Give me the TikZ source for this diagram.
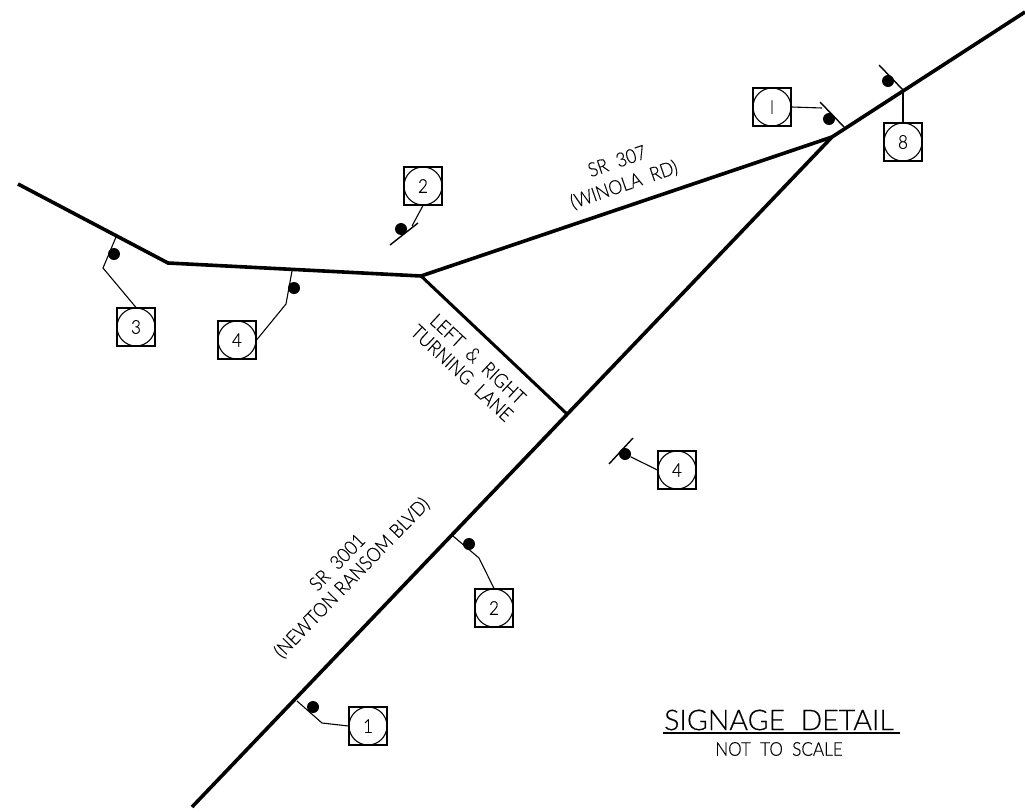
\documentclass[tikz,border=0pt]{standalone}
\usepackage{fontspec}
\setmainfont{Lato}[UprightFont=* Light,FakeStretch=0.9,FakeBold=0.35]
\newfontfamily\titlefont{Lato}[UprightFont=* Light,FakeStretch=1.0,FakeBold=0.4]
\tikzset{
  x=1pt,y=-1pt,
  road/.style={line width=3.6pt,line join=miter,line cap=butt},
  leader/.style={line width=1.1pt,line join=miter},
  signbar/.style={line width=1.4pt},
  signbox/.style={draw,line width=1.1pt,rectangle,minimum size=38pt,inner sep=0pt},
  signcirc/.style={draw,line width=1.1pt,circle,minimum size=38pt,inner sep=0pt,font=\fontsize{19}{19}\selectfont},
  signdot/.style={fill,circle,minimum size=12pt,inner sep=0pt},
  lbl/.style={inner sep=0pt,font=\fontsize{19.5}{19.5}\selectfont,align=center},
}
\newcommand{\signmark}[3]{\node[signbox] (#1) at (#2) {};\node[signcirc] (#1c) at (#2) {#3};}
\begin{document}
\begin{tikzpicture}
\useasboundingbox[fill=white] (0,0) rectangle (1025,811);
% road vertices
\coordinate (ne) at (1025,12);
\coordinate (jn) at (832,137);
\coordinate (sw) at (192,807);
\coordinate (wj) at (421,276);
\coordinate (bend) at (168,263);
\coordinate (w) at (18,184);
\coordinate (tl) at (567,414);
\draw[road] (ne) -- (jn) -- (sw);
\draw[road] (jn) -- (wj) -- (bend) -- (w);
\draw[road,line width=3pt] (wj) -- (tl);
% sign marks
\signmark{sa}{903,142}{8}
\signmark{sb}{772,107}{I}
\signmark{sc}{423,186}{2}
\signmark{sd}{136,327}{3}
\signmark{se}{237,340}{4}
\signmark{sf}{677,470}{4}
\signmark{sg}{494,608}{2}
\signmark{sh}{368,726}{1}
% sign 8
\coordinate (a1) at (903,90); \coordinate (a2) at (879,65);
\draw[leader] (sa.north) -- (a1);
\draw[signbar] (a2) -- (a1);
\node[signdot] (da) at (888,81) {};
% sign I
\coordinate (b1) at (822,108); \coordinate (b2) at (820,102); \coordinate (b3) at (844,127);
\draw[leader] (sbc.east) -- (b1);
\draw[signbar] (b2) -- (b3);
\node[signdot] (db) at (829,119) {};
% upper 2
\coordinate (c1) at (412,226); \coordinate (c2) at (390,245); \coordinate (c3) at (418,223);
\draw[leader] (scc.south) -- (c1);
\draw[signbar] (c2) -- (c3);
\node[signdot] (dc) at (401,229) {};
% 3
\coordinate (d1) at (103,268); \coordinate (d2) at (116,237);
\draw[leader] (sd.north) -- (d1) -- (d2);
\node[signdot] (dd) at (114,254) {};
% left 4
\coordinate (e1) at (286,304); \coordinate (e2) at (292,271);
\draw[leader] (sec.east) -- (e1) -- (e2);
\node[signdot] (de) at (294,288) {};
% right 4
\coordinate (f2) at (609,464); \coordinate (f3) at (633,438);
\node[signdot] (df) at (625,454) {};
\draw[leader] (sfc.west) -- (df);
\draw[signbar] (f2) -- (f3);
% lower 2
\coordinate (g1) at (479,558); \coordinate (g2) at (453,536);
\draw[leader] (sg.north) -- (g1) -- (g2);
\node[signdot] (dg) at (469,544) {};
% 1
\coordinate (h1) at (322,723); \coordinate (h2) at (297,701);
\draw[leader] (shc.west) -- (h1) -- (h2);
\node[signdot] (dh) at (313,707) {};
% labels
\node[lbl,rotate=19] (t1) at (617,161) {SR\ \ 307};
\node[lbl,rotate=19] (t2) at (624,185) {(WINOLA\ \ RD)};
\node[lbl,rotate=-43] (t3) at (478,359) {LEFT\ \ \&\ \ RIGHT};
\node[lbl,rotate=-43] (t4) at (462,373) {TURNING\ \ LANE};
\node[lbl,rotate=46] (t5) at (337,562) {SR\ \ 3001};
\node[lbl,rotate=46] (t6) at (352,578) {(NEWTON\ RANSOM\ BLVD)};
\node[inner sep=0pt,font=\titlefont\fontsize{28.5}{28.5}\selectfont] (t7) at (779,720) {SIGNAGE\ \ DETAIL};
\coordinate (u1) at (663,733); \coordinate (u2) at (900,733);
\draw[line width=2pt] (u1) -- (u2);
\node[inner sep=0pt,font=\fontsize{19}{19}\selectfont] (t8) at (779,749) {NOT\ \ TO\ \ SCALE};
\end{tikzpicture}
\end{document}
